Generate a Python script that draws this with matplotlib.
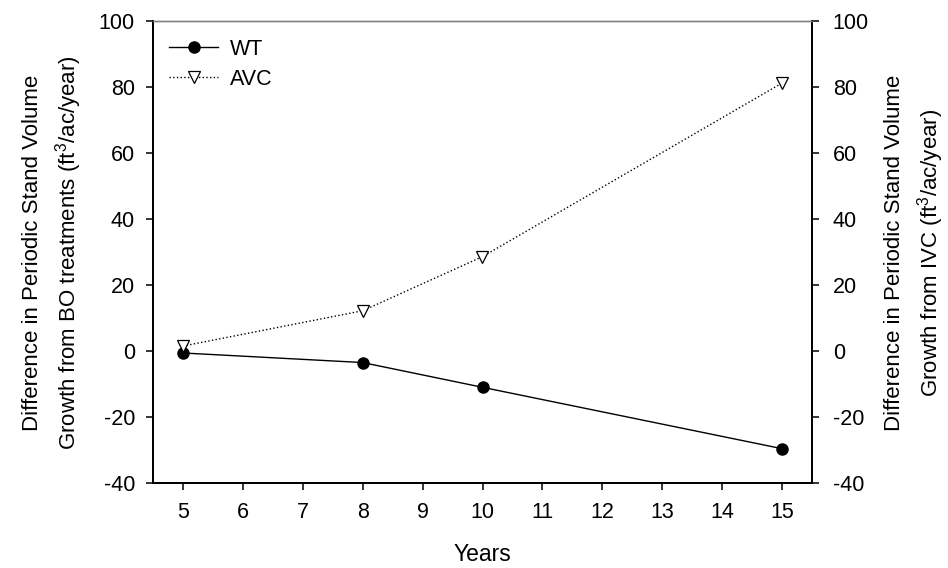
import matplotlib
matplotlib.use("Agg")
import matplotlib.pyplot as plt

plt.rcParams['font.family'] = ['Liberation Sans', 'DejaVu Sans']
plt.rcParams['mathtext.fontset'] = 'custom'
plt.rcParams['mathtext.rm'] = 'Liberation Sans'
plt.rcParams['mathtext.it'] = 'Liberation Sans'
plt.rcParams['axes.unicode_minus'] = False

years = [5, 8, 10, 15]
wt = [-0.6, -3.5, -11.0, -29.6]
avc = [1.5, 12.2, 28.6, 81.2]
xticks = list(range(5, 16))
yticks = list(range(-40, 101, 20))

fs = 15.5
W, H = 948, 568
fig = plt.figure(figsize=(W / 100, H / 100), dpi=100)
ax = fig.add_axes([153/W, 1 - 483/H, (812-153)/W, (483-21)/H])
ax2 = ax.twinx()

l1, = ax.plot(years, wt, '-', color='black', lw=1.0, marker='o', ms=8,
              mfc='black', mec='black', label='WT')
l2, = ax2.plot(years, avc, ':', color='black', lw=1.0, marker='v', ms=9,
               mfc='white', mec='black', mew=0.9, label='AVC')

for a in (ax, ax2):
    a.set_ylim(-40, 100)
    a.set_yticks(yticks)
    a.set_xlim(4.5, 15.5)
    a.tick_params(labelsize=fs, direction='out', length=5, width=1.1)
    for s in a.spines.values():
        s.set_linewidth(1.3)
    a.spines['top'].set_color('#808080')
    a.spines['top'].set_linewidth(1.0)
ax.set_xticks(xticks)
ax.tick_params(axis='x', pad=9)
ax.tick_params(axis='y', pad=8)
ax2.tick_params(axis='y', pad=10)

ax.set_xlabel('Years', fontsize=16.5, labelpad=14)
fig.text(53 / W, 1 - 253 / H,
         'Difference in Periodic Stand Volume\nGrowth from BO treatments (ft$^{3}$/ac/year)',
         fontsize=16, rotation=90, ha='center', va='center',
         multialignment='center', linespacing=1.45)
fig.text(915 / W, 1 - 253 / H,
         'Difference in Periodic Stand Volume\nGrowth from IVC (ft$^{3}$/ac/year)',
         fontsize=16, rotation=90, ha='center', va='center',
         multialignment='center', linespacing=1.45)

ax.legend(handles=[l1, l2], loc='upper left', bbox_to_anchor=(0.024, 0.962),
          frameon=False, fontsize=fs, handlelength=2.3, handletextpad=0.55,
          labelspacing=0.42, borderpad=0, borderaxespad=0)

fig.savefig('out.png', dpi=100)
